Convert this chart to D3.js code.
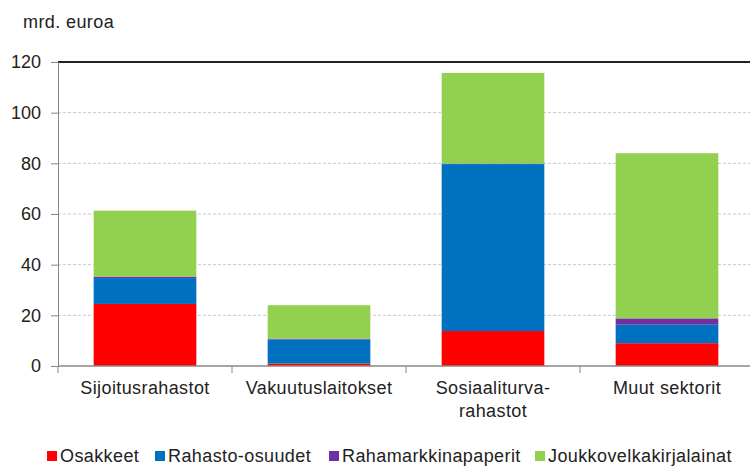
<!DOCTYPE html>
<html>
<head>
<meta charset="utf-8">
<script src="https://cdn.jsdelivr.net/npm/d3@7"></script>
<style>
  body { margin: 0; background: #fff; }
  svg text { font-family: "Liberation Sans", Arial, sans-serif; fill: #222; }
</style>
</head>
<body>
<svg id="chart" width="750" height="468"></svg>
<script>
// categories (line breaks marked with \n)
const categories = ['Sijoitusrahastot', 'Vakuutuslaitokset', 'Sosiaaliturva-\nrahastot', 'Muut sektorit'];
const seriesNames = ['Osakkeet', 'Rahasto-osuudet', 'Rahamarkkinapaperit', 'Joukkovelkakirjalainat'];
const osakkeet = [24.5, 1.0, 13.8, 9.0];
const rahastoOsuudet = [10.2, 9.5, 65.9, 7.3];
const rahamarkkina = [0.6, 0.3, 0.2, 2.5];
const joukkovelka = [26.0, 13.2, 35.8, 65.2];
const yTicks = [0, 20, 40, 60, 80, 100, 120];

const colors = ['#ff0000', '#0070c0', '#7030a0', '#92d050'];

const rows = categories.map((c, i) => ({
    cat: c,
    Osakkeet: osakkeet[i],
    'Rahasto-osuudet': rahastoOsuudet[i],
    Rahamarkkinapaperit: rahamarkkina[i],
    Joukkovelkakirjalainat: joukkovelka[i]
}));

const margin = { top: 62, right: -4, bottom: 102, left: 58 };
const width = 750 - margin.left - margin.right;
const height = 468 - margin.top - margin.bottom;

const svg = d3.select('#chart');
const g = svg.append('g').attr('transform', `translate(${margin.left},${margin.top})`);

const x = d3.scaleBand().domain(categories).range([0, width]).padding(0);
const barW = x.bandwidth() * 0.59;
const y = d3.scaleLinear().domain([0, 120]).range([height, 0]);

const stack = d3.stack().keys(seriesNames)(rows);

// gridlines
g.selectAll('line.grid')
    .data(yTicks.filter(t => t > 0 && t < 120))
    .join('line')
    .attr('class', 'grid')
    .attr('x1', 0)
    .attr('x2', width)
    .attr('y1', d => y(d))
    .attr('y2', d => y(d))
    .attr('stroke', '#c8c8c8')
    .attr('stroke-dasharray', '3,2');

// top line
g.append('line')
    .attr('x1', 0)
    .attr('x2', width)
    .attr('y1', y(120))
    .attr('y2', y(120))
    .attr('stroke', '#222')
    .attr('stroke-width', 2);

// bars
g.selectAll('g.series')
    .data(stack)
    .join('g')
    .attr('class', 'series')
    .attr('fill', (d, i) => colors[i])
    .selectAll('rect')
    .data(d => d)
    .join('rect')
    .attr('x', d => x(d.data.cat) + (x.bandwidth() - barW) / 2)
    .attr('width', barW)
    .attr('y', d => y(d[1]))
    .attr('height', d => y(d[0]) - y(d[1]));

// y axis
const yAxis = g.append('g')
    .call(d3.axisLeft(y).tickValues(yTicks).tickSize(7).tickPadding(10));
yAxis.select('.domain').attr('stroke', '#888');
yAxis.selectAll('.tick line').attr('stroke', '#888');
yAxis.selectAll('.tick text')
    .attr('font-size', 18)
    .attr('fill', '#222');

// x axis
const xAxis = g.append('g').attr('transform', `translate(0,${height})`);
xAxis.append('line')
    .attr('x1', 0)
    .attr('x2', width)
    .attr('stroke', '#888')
    .attr('stroke-width', 1.5);
xAxis.selectAll('line.xt')
    .data(categories)
    .join('line')
    .attr('class', 'xt')
    .attr('x1', d => x(d))
    .attr('x2', d => x(d))
    .attr('y1', 0)
    .attr('y2', 7)
    .attr('stroke', '#888');

xAxis.selectAll('text.cat')
    .data(categories)
    .join('text')
    .attr('class', 'cat')
    .attr('text-anchor', 'middle')
    .attr('font-size', 18)
    .attr('letter-spacing', 0.4)
    .attr('transform', d => `translate(${x(d) + x.bandwidth() / 2},28)`)
    .each(function(d) {
        d.split('\n').forEach((line, i) => {
            d3.select(this).append('tspan')
                .attr('x', 0)
                .attr('y', i * 23)
                .text(line);
        });
    });

// unit label
svg.append('text')
    .attr('x', 23)
    .attr('y', 28)
    .attr('font-size', 18)
    .attr('letter-spacing', 0.4)
    .text('mrd. euroa');

// legend
const legendX = [47, 155, 329, 535];
const legend = svg.append('g');
const items = legend.selectAll('g')
    .data(seriesNames)
    .join('g')
    .attr('transform', (d, i) => `translate(${legendX[i]},451)`);
items.append('rect')
    .attr('width', 10)
    .attr('height', 10)
    .attr('fill', (d, i) => colors[i]);
items.append('text')
    .attr('x', 13)
    .attr('y', 11)
    .attr('font-size', 18)
    .attr('letter-spacing', 0.4)
    .text(d => d);
</script>
</body>
</html>
